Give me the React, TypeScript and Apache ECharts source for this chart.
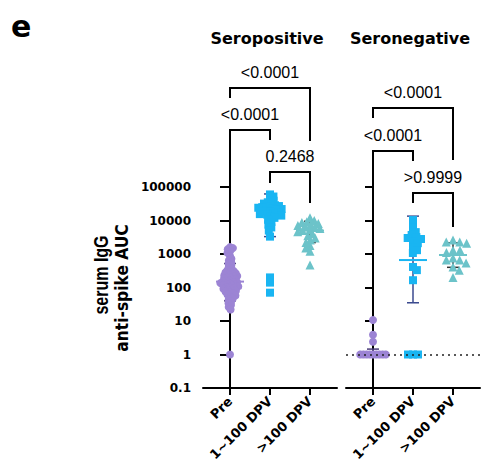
import React, { useEffect, useRef } from "react";
import * as echarts from "echarts";

// ---------- data ----------
const CATEGORIES = ["Pre", "1~100 DPV", ">100 DPV"];
const PANELS = ["Seropositive", "Seronegative"];
const Y_TICKS = [0.1, 1, 10, 100, 1000, 10000, 100000];

const SEROPOS_PRE = [1600, 1500, 1380, 1200, 1080, 870, 720, 640, 560, 500, 450, 400, 360, 330, 310, 290, 280, 265, 250, 240, 230, 220, 210, 200, 195, 185, 175, 170, 160, 155, 150, 145, 140, 135, 130, 125, 120, 118, 112, 108, 104, 100, 96, 92, 88, 84, 80, 75, 70, 66, 62, 58, 52, 47, 43, 38, 34, 30, 26, 22, 1];
const SEROPOS_EARLY = [60000, 52000, 44000, 39000, 35000, 32000, 30000, 28500, 27000, 26000, 25000, 24000, 23000, 22000, 21000, 20000, 19000, 18000, 17000, 16000, 15500, 15000, 14000, 13000, 12000, 10500, 9000, 7500, 6200, 5000, 3300, 200, 140, 70];
const SEROPOS_LATE = [12000, 10000, 9200, 8700, 8200, 7600, 7100, 6600, 6200, 5800, 5400, 5000, 4600, 4000, 3500, 3000, 2600, 2200, 1800, 1500, 1200, 470];
const SERONEG_PRE = [10.7, 3.9, 2.4, 1, 1, 1, 1, 1, 1, 1, 1, 1];
const SERONEG_EARLY = [10300, 6000, 4500, 3700, 3200, 3000, 2800, 2300, 2100, 1600, 1300, 1070, 410, 330, 165, 1, 1, 1];
const SERONEG_LATE = [2600, 2300, 2300, 2100, 1300, 1300, 1100, 760, 660, 660, 540, 410, 330, 200];

// geometric mean with geometric SD: [centre, low, high]
const SEROPOS_BARS = [[150, 40, 520], [16000, 3300, 62000], [5000, 2200, 9500]];
const SERONEG_BARS = [[1.2, 1.0, 1.45], [660, 35, 13500], [935, 400, 2150]];

const P_VALUES = [
  { panel: 0, from: 0, to: 2, label: "<0.0001" },
  { panel: 0, from: 0, to: 1, label: "<0.0001" },
  { panel: 0, from: 1, to: 2, label: "0.2468" },
  { panel: 1, from: 0, to: 2, label: "<0.0001" },
  { panel: 1, from: 0, to: 1, label: "<0.0001" },
  { panel: 1, from: 1, to: 2, label: ">0.9999" },
];

// ---------- layout / style ----------
const GRID_TOP = 187;
const GRID_H = 201;
const GRID_W = 134;
const GRID_LEFT = [203, 346];
const X_MIN = -0.675;
const X_MAX = 2.675;
const PX_PER_UNIT = GRID_W / (X_MAX - X_MIN);
const PX_PER_DEC = GRID_H / 6;
// bracket geometry in px relative to grid top: [bar, left leg end, right leg end]
const BRACKET_LAYOUT = [
  [-99, -89, -46],
  [-57, 48, -47],
  [-15, -4, 16],
  [-79, -69, -27],
  [-36, 120, -26],
  [6, 16, 40],
];
const PURPLE = "#9c84d4";
const BLUE = "#19b5f2";
const TEAL = "#6cc3c9";
const BOLD_FONT = "DejaVu Sans";

const GROUPS = [
  { panel: 0, cat: 0, values: SEROPOS_PRE, bars: SEROPOS_BARS[0], symbol: "circle", size: 8, color: PURPLE, barColor: "#4b3d7a", gap: 3.1 },
  { panel: 0, cat: 1, values: SEROPOS_EARLY, bars: SEROPOS_BARS[1], symbol: "rect", size: 8, color: BLUE, barColor: "#3b4a8f", gap: 4.0 },
  { panel: 0, cat: 2, values: SEROPOS_LATE, bars: SEROPOS_BARS[2], symbol: "triangle", size: 9, color: TEAL, barColor: "#333333", gap: 5 },
  { panel: 1, cat: 0, values: SERONEG_PRE, bars: SERONEG_BARS[0], symbol: "circle", size: 8, color: PURPLE, barColor: "#4b3d7a", gap: 3.2 },
  { panel: 1, cat: 1, values: SERONEG_EARLY, bars: SERONEG_BARS[1], symbol: "rect", size: 8, color: BLUE, barColor: "#3b4a8f", gap: 5 },
  { panel: 1, cat: 2, values: SERONEG_LATE, bars: SERONEG_BARS[2], symbol: "triangle", size: 9, color: TEAL, barColor: "#333333", gap: 7 },
];

// beeswarm layout: horizontal px offsets so that points keep a minimum distance
function swarm(values: number[], gap: number): number[] {
  const pts = values
    .map((v, i) => ({ i, y: (5 - Math.log10(v)) * PX_PER_DEC }))
    .sort((a, b) => a.y - b.y);
  const placed: { x: number; y: number }[] = [];
  const out: number[] = new Array(values.length).fill(0);
  for (const p of pts) {
    const nb = placed.filter((q) => Math.abs(q.y - p.y) < gap);
    const cands = [0];
    nb.forEach((q) => {
      const dx = Math.sqrt(gap * gap - (q.y - p.y) ** 2);
      cands.push(q.x + dx, q.x - dx);
    });
    let best: number | null = null;
    for (const x of cands) {
      const ok = nb.every((q) => (x - q.x) ** 2 + (p.y - q.y) ** 2 >= gap * gap - 1e-6);
      if (ok && (best === null || Math.abs(x) < Math.abs(best) - 1e-9)) best = x;
    }
    const bx = best === null ? 0 : best;
    placed.push({ x: bx, y: p.y });
    out[p.i] = bx;
  }
  return out;
}

function fmtTick(v: number) {
  if (v < 1) return String(+v.toPrecision(1));
  return String(Math.round(v));
}

export default function App() {
  const ref = useRef<HTMLDivElement>(null);
  useEffect(() => {
    if (!ref.current) return;
    const chart = echarts.init(ref.current, null, { renderer: "svg" });

    const scatterSeries = GROUPS.map((g) => {
      const offs = swarm(g.values, g.gap);
      return {
        type: "scatter",
        xAxisIndex: g.panel,
        yAxisIndex: g.panel,
        symbol: g.symbol,
        symbolSize: g.size,
        itemStyle: { color: g.color, opacity: 1 },
        z: 3,
        silent: true,
        data: g.values.map((v, k) => [g.cat + offs[k] / PX_PER_UNIT, v]),
      };
    });

    const barSeries = GROUPS.map((g) => ({
      type: "custom",
      xAxisIndex: g.panel,
      yAxisIndex: g.panel,
      z: 2,
      silent: true,
      clip: false,
      data: [[g.cat, g.bars[0], g.bars[1], g.bars[2]]],
      encode: { x: 0, y: [1, 2, 3] },
      renderItem: (params: any, api: any) => {
        const x = api.value(0);
        const pc = api.coord([x, api.value(1)]);
        const pl = api.coord([x, api.value(2)]);
        const ph = api.coord([x, api.value(3)]);
        const st = { stroke: g.barColor, lineWidth: 1.5 };
        return {
          type: "group",
          children: [
            { type: "line", shape: { x1: pc[0], y1: pl[1], x2: pc[0], y2: ph[1] }, style: st },
            { type: "line", shape: { x1: pc[0] - 6, y1: pl[1], x2: pc[0] + 6, y2: pl[1] }, style: st },
            { type: "line", shape: { x1: pc[0] - 6, y1: ph[1], x2: pc[0] + 6, y2: ph[1] }, style: st },
            { type: "line", shape: { x1: pc[0] - 14, y1: pc[1], x2: pc[0] + 14, y2: pc[1] }, style: { stroke: g.color, lineWidth: 2 } },
          ],
        };
      },
    }));

    const bracketSeries = [0, 1].map((panel) => ({
      type: "custom",
      xAxisIndex: panel,
      yAxisIndex: panel,
      z: 4,
      silent: true,
      clip: false,
      data: P_VALUES.map((p, i) => ({ p, i })).filter((o) => o.p.panel === panel).map((o) => [o.p.from, 1, o.p.to, o.i]),
      encode: { x: [0, 2], y: 1 },
      renderItem: (params: any, api: any) => {
        const i = api.value(3);
        const lay = BRACKET_LAYOUT[i];
        const top = params.coordSys.y;
        const x1 = api.coord([api.value(0), 1])[0];
        const x2 = api.coord([api.value(2), 1])[0];
        const yb = top + lay[0];
        return {
          type: "group",
          children: [
            {
              type: "polyline",
              shape: { points: [[x1, top + lay[1]], [x1, yb], [x2, yb], [x2, top + lay[2]]] },
              style: { stroke: "#000", lineWidth: 2, fill: null },
            },
            {
              type: "text",
              style: {
                text: P_VALUES[i].label,
                x: (x1 + x2) / 2,
                y: yb - 16,
                align: "center",
                verticalAlign: "middle",
                fontFamily: "Liberation Sans",
                fontSize: 16,
                fill: "#000",
              },
            },
          ],
        };
      },
    }));

    const refLineSeries = [0, 1].map((panel) => ({
      type: "line",
      xAxisIndex: panel,
      yAxisIndex: panel,
      z: 1,
      data: [],
      silent: true,
      markLine: {
        silent: true,
        symbol: ["none", "none"],
        label: { show: false },
        lineStyle: { color: "#222", width: 1.5, type: [2, 4] },
        data: [[{ coord: [X_MIN, 1] }, { coord: [panel === 0 ? X_MAX + 0.225 : X_MAX, 1] }]],
      },
    }));

    chart.setOption({
      animation: false,
      grid: GRID_LEFT.map((l) => ({ left: l, top: GRID_TOP, width: GRID_W, height: GRID_H })),
      xAxis: [0, 1].map((g) => ({
        type: "value",
        gridIndex: g,
        min: X_MIN,
        max: X_MAX,
        axisLine: { show: true, onZero: false, lineStyle: { color: "#000", width: 2 } },
        axisTick: { show: true, customValues: [0, 1, 2], length: 7, lineStyle: { color: "#000", width: 2 } },
        axisLabel: {
          show: true,
          customValues: [0, 1, 2],
          rotate: 45,
          margin: 11,
          formatter: (v: number) => CATEGORIES[Math.round(v)],
          fontFamily: BOLD_FONT,
          fontWeight: "bold",
          fontSize: 13,
          color: "#000",
        },
        splitLine: { show: false },
      })),
      yAxis: [0, 1].map((g) => ({
        type: "log",
        logBase: 10,
        gridIndex: g,
        min: Y_TICKS[0],
        max: Y_TICKS[Y_TICKS.length - 1],
        splitNumber: 6,
        axisLine: { show: true, lineStyle: { color: "#000", width: 2 } },
        axisTick: { show: true, length: g === 0 ? 10 : 8, lineStyle: { color: "#000", width: 2 } },
        axisLabel: {
          show: g === 0,
          margin: 12,
          formatter: fmtTick,
          fontFamily: BOLD_FONT,
          fontWeight: "bold",
          fontSize: 12,
          color: "#000",
        },
        splitLine: { show: false },
      })),
      graphic: [
        { type: "text", x: 11, y: 26, style: { text: "e", fontFamily: BOLD_FONT, fontWeight: "bold", fontSize: 30, fill: "#000", verticalAlign: "middle" } },
        { type: "text", x: 267, y: 38, style: { text: PANELS[0], fontFamily: BOLD_FONT, fontWeight: "bold", fontSize: 16, fill: "#000", align: "center", verticalAlign: "middle" } },
        { type: "text", x: 410, y: 38, style: { text: PANELS[1], fontFamily: BOLD_FONT, fontWeight: "bold", fontSize: 16, fill: "#000", align: "center", verticalAlign: "middle" } },
        { type: "text", x: 101, y: 275, rotation: Math.PI / 2, scaleY: 1.25, style: { text: "serum IgG", fontFamily: "Liberation Sans", fontWeight: "bold", fontSize: 16, fill: "#000", align: "center", verticalAlign: "middle" } },
        { type: "text", x: 122, y: 288, rotation: Math.PI / 2, scaleY: 1.1, style: { text: "anti-spike AUC", fontFamily: BOLD_FONT, fontWeight: "bold", fontSize: 15.5, fill: "#000", align: "center", verticalAlign: "middle" } },
      ],
      series: [...refLineSeries, ...barSeries, ...scatterSeries, ...bracketSeries],
    });
    return () => chart.dispose();
  }, []);
  return <div ref={ref} style={{ width: 482, height: 465, position: "absolute", left: 0, top: 0 }} />;
}
